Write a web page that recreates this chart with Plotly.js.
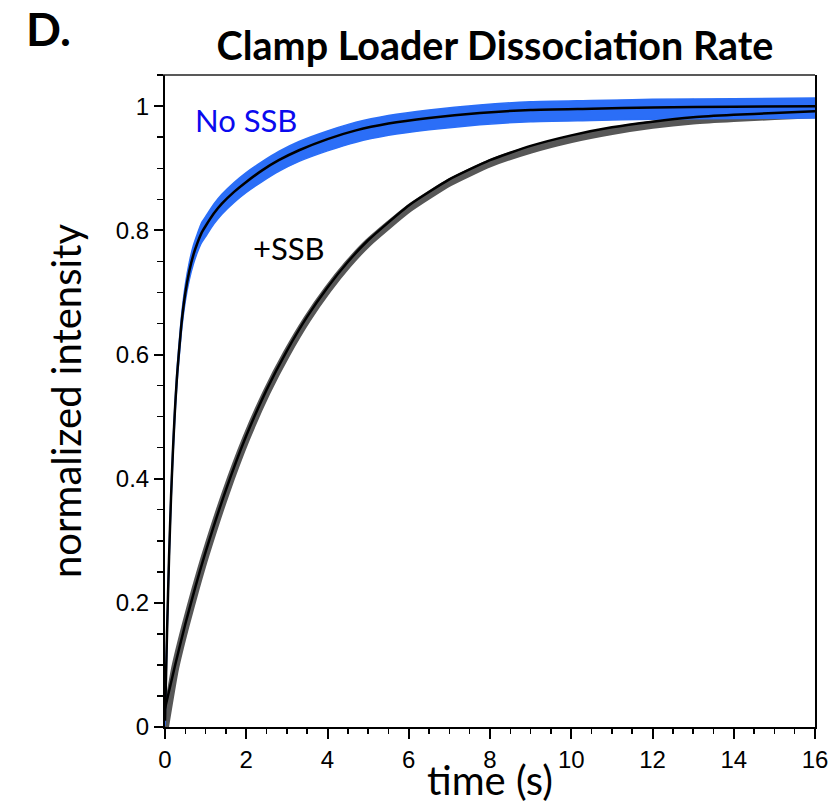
<!DOCTYPE html>
<html>
<head>
<meta charset="utf-8">
<script src="https://cdn.plot.ly/plotly-3.0.1.min.js"></script>
<style>
  html, body { margin: 0; padding: 0; background: #ffffff; }
  #chart { width: 839px; height: 804px; }
</style>
</head>
<body>
<div id="chart"></div>
<script>
// ---- data ----
// No SSB (blue data band + black fit)
const tBlue = [0, 0.025, 0.05, 0.1, 0.15, 0.2, 0.25, 0.3, 0.4, 0.5, 0.6, 0.7, 0.8, 0.9, 1.0, 1.2, 1.4, 1.7, 2.0, 2.4, 2.8, 3.3, 4.0, 4.7, 5.5, 6.5, 7.75, 9, 10.5, 12, 14, 16];
const blueFit = [0.01, 0.08, 0.152, 0.274, 0.373, 0.452, 0.517, 0.569, 0.646, 0.699, 0.735, 0.761, 0.78, 0.796, 0.807, 0.827, 0.843, 0.862, 0.878, 0.897, 0.913, 0.929, 0.947, 0.961, 0.972, 0.981, 0.989, 0.994, 0.996, 0.998, 0.999, 1.0];
const blueData = [0.01, 0.08, 0.152, 0.274, 0.373, 0.452, 0.517, 0.569, 0.646, 0.699, 0.735, 0.761, 0.78, 0.796, 0.806, 0.826, 0.842, 0.861, 0.877, 0.895, 0.911, 0.927, 0.944, 0.958, 0.969, 0.978, 0.986, 0.991, 0.993, 0.995, 0.996, 0.997];
const blueSpread = [0.008, 0.008, 0.008, 0.008, 0.009, 0.01, 0.01, 0.011, 0.012, 0.013, 0.014, 0.015, 0.015, 0.016, 0.016, 0.016, 0.016, 0.016, 0.016, 0.016, 0.016, 0.016, 0.016, 0.016, 0.016, 0.016, 0.016, 0.016, 0.016, 0.016, 0.016, 0.016];

// +SSB (gray data + black fit)
const tGray = [0, 0.25, 0.5, 0.75, 1, 1.5, 2, 2.5, 3, 3.5, 4, 4.5, 5, 6, 7, 8, 9, 10, 11, 12, 13, 14, 15, 16];
const grayFit = [0.03, 0.10, 0.166, 0.226, 0.282, 0.382, 0.469, 0.543, 0.606, 0.661, 0.708, 0.749, 0.784, 0.840, 0.882, 0.913, 0.936, 0.953, 0.966, 0.975, 0.982, 0.986, 0.989, 0.992];
const grayData = [0.0, 0.095, 0.162, 0.222, 0.278, 0.378, 0.465, 0.539, 0.602, 0.657, 0.704, 0.745, 0.780, 0.835, 0.877, 0.908, 0.930, 0.947, 0.960, 0.970, 0.977, 0.981, 0.984, 0.987];

const xTickVals = [0, 2, 4, 6, 8, 10, 12, 14, 16];
const yTickVals = [0, 0.2, 0.4, 0.6, 0.8, 1];
const yTickText = ['0', '0.2', '0.4', '0.6', '0.8', '1'];

// ---- build traces ----
const blueLow = blueData.map((v, i) => v - blueSpread[i]);
const blueHigh = blueData.map((v, i) => v + blueSpread[i]);

const BLUE = '#2b6ef7';
const GRAY = '#575757';
const SPL = { shape: 'spline', smoothing: 0.5 };

const traces = [
  { x: tGray, y: grayData, type: 'scatter', mode: 'lines',
    line: Object.assign({ color: GRAY, width: 8 }, SPL), hoverinfo: 'skip', showlegend: false },
  { x: tBlue, y: blueLow, type: 'scatter', mode: 'lines',
    line: Object.assign({ color: BLUE, width: 1.5 }, SPL), hoverinfo: 'skip', showlegend: false },
  { x: tBlue, y: blueHigh, type: 'scatter', mode: 'lines', fill: 'tonexty', fillcolor: BLUE,
    line: Object.assign({ color: BLUE, width: 1.5 }, SPL), hoverinfo: 'skip', showlegend: false },
  { x: tBlue, y: blueFit, type: 'scatter', mode: 'lines',
    line: Object.assign({ color: '#000000', width: 2.5 }, SPL), showlegend: false },
  { x: tGray, y: grayFit, type: 'scatter', mode: 'lines',
    line: Object.assign({ color: '#000000', width: 2.5 }, SPL), showlegend: false }
];

const TXT = 'Lato, "Noto Sans", sans-serif';
const NUM = '"Liberation Sans", Arial, sans-serif';

const layout = {
  width: 839, height: 804,
  margin: { l: 165, r: 24, t: 75, b: 77 },
  paper_bgcolor: '#ffffff', plot_bgcolor: '#ffffff',
  title: { text: '<b>Clamp Loader Dissociation Rate</b>', font: { family: TXT, size: 39.5, color: '#000' },
           xref: 'container', x: 0.59, xanchor: 'center', yref: 'container', y: 0.942, yanchor: 'middle' },
  xaxis: {
    range: [0, 16], tickvals: xTickVals, ticks: 'outside', ticklen: 10, tickwidth: 2, tickcolor: '#000',
    minor: { dtick: 0.5, ticks: 'outside', ticklen: 5, tickwidth: 1.5, tickcolor: '#000' },
    showline: true, linecolor: '#000', linewidth: 2, mirror: false, showgrid: false, zeroline: false,
    tickfont: { family: NUM, size: 24, color: '#000' },
    title: { text: 'time (s)', font: { family: TXT, size: 40, color: '#000' }, standoff: 3 }
  },
  yaxis: {
    range: [0, 1.0502], tickvals: yTickVals, ticktext: yTickText, ticks: 'outside', ticklen: 9, tickwidth: 2, tickcolor: '#000',
    minor: { dtick: 0.05, ticks: 'outside', ticklen: 6, tickwidth: 1.5, tickcolor: '#000' },
    showline: true, linecolor: '#000', linewidth: 2, mirror: true, showgrid: false, zeroline: false,
    tickfont: { family: NUM, size: 24, color: '#000' },
    title: { text: 'normalized intensity', font: { family: TXT, size: 40, color: '#000' }, standoff: 22 }
  },
  shapes: [
    { type: 'line', xref: 'paper', yref: 'paper', x0: -0.003, x1: 1, y0: 1, y1: 1, line: { color: '#222', width: 1.5 } }
  ],
  annotations: [
    { text: '<b>D.</b>', xref: 'paper', yref: 'paper', x: -0.217, y: 1.072, xanchor: 'left', yanchor: 'middle',
      showarrow: false, font: { family: TXT, size: 46, color: '#000' } },
    { text: 'No SSB', xref: 'x', yref: 'y', x: 0.69, y: 0.978, xanchor: 'left', yanchor: 'middle',
      showarrow: false, font: { family: TXT, size: 31, color: '#0a0aee' } },
    { text: '+SSB', xref: 'x', yref: 'y', x: 2.12, y: 0.771, xanchor: 'left', yanchor: 'middle',
      showarrow: false, font: { family: TXT, size: 31, color: '#000' } }
  ]
};

Plotly.newPlot('chart', traces, layout, { displayModeBar: false, staticPlot: true });
</script>
</body>
</html>
